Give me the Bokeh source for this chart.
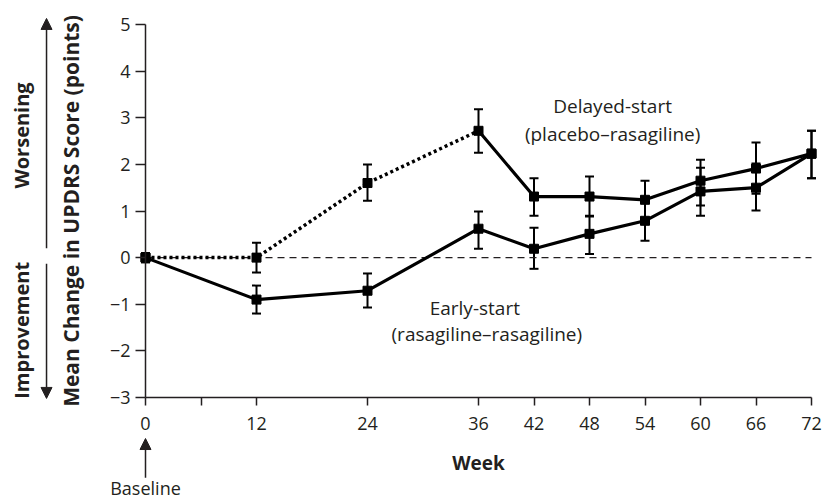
from bokeh.plotting import figure
from bokeh.models import (Range1d, FixedTicker, ColumnDataSource, Whisker, TeeHead,
                          Label, Arrow, NormalHead)
from bokeh.embed import file_html
from bokeh.resources import INLINE

# ---- data ----
weeks = [0, 12, 24, 36, 42, 48, 54, 60, 66, 72]
delayed = [0.0, 0.0, 1.6, 2.72, 1.31, 1.31, 1.24, 1.65, 1.91, 2.23]
delayed_lo = [-0.1, -0.32, 1.22, 2.25, 0.9, 0.88, 0.84, 1.12, 1.37, 1.7]
delayed_hi = [0.1, 0.32, 2.0, 3.18, 1.7, 1.74, 1.65, 2.1, 2.47, 2.72]
early = [0.0, -0.9, -0.71, 0.62, 0.19, 0.51, 0.79, 1.42, 1.5, 2.23]
early_lo = [-0.1, -1.2, -1.07, 0.19, -0.24, 0.08, 0.36, 0.9, 1.01, 1.7]
early_hi = [0.1, -0.6, -0.34, 0.99, 0.64, 0.9, 1.2, 1.93, 2.02, 2.72]
placebo_until = 36  # delayed-start group on placebo until week 36

x_ticks = [0, 6, 12, 24, 36, 42, 48, 54, 60, 66, 72]
y_ticks = [-3, -2, -1, 0, 1, 2, 3, 4, 5]
x_min, x_max = 0, 72
y_min, y_max = -3, 5

FONT = "Open Sans"
INK = "#231f20"

# frame covers the whole canvas; axes are pinned inside it
p = figure(width=823, height=499, output_backend="svg", toolbar_location=None,
           x_range=Range1d(-15.676, 73.297), y_range=Range1d(-5.188, 5.515),
           min_border=0, background_fill_color="white")
p.grid.visible = False
p.outline_line_color = None

xa = p.xaxis[0]
xa.ticker = FixedTicker(ticks=x_ticks)
xa.major_label_overrides = {6: ""}
xa.bounds = (x_min, x_max)
xa.fixed_location = y_min
xa.axis_label = "Week"
ya = p.yaxis[0]
ya.ticker = FixedTicker(ticks=y_ticks)
ya.major_label_overrides = {t: ("\u2212" + str(-t) if t < 0 else str(t)) for t in y_ticks}
ya.bounds = (y_min, y_max)
ya.fixed_location = x_min
ya.axis_label = "Mean Change in UPDRS Score (points)"
for ax in (xa, ya):
    ax.axis_line_color = INK
    ax.axis_line_width = 1.5
    ax.major_tick_line_color = INK
    ax.major_tick_line_width = 1.5
    ax.major_tick_in = 0
    ax.minor_tick_line_color = None
    ax.major_label_text_font = FONT
    ax.major_label_text_font_size = "18px"
    ax.major_label_text_color = INK
    ax.axis_label_text_font = FONT
    ax.axis_label_text_font_style = "bold"
    ax.axis_label_text_color = INK
xa.axis_label_text_font_size = "19px"
ya.axis_label_text_font_size = "21px"
xa.major_tick_out = 8
ya.major_tick_out = 10
xa.major_label_standoff = 12
xa.axis_label_standoff = 16
ya.major_label_standoff = 5
ya.axis_label_standoff = 22

# zero reference line
p.line([x_min, x_max], [0, 0], line_color=INK, line_width=1.3, line_dash="7 5")

# delayed-start: dotted while on placebo, solid afterwards
k = weeks.index(placebo_until)
p.line(weeks[:k + 1], delayed[:k + 1], line_color="black", line_width=3.5, line_dash="3 3")
p.line(weeks[k:], delayed[k:], line_color="black", line_width=3.2)
p.line(weeks, early, line_color="black", line_width=3.2)

src_d = ColumnDataSource(dict(x=weeks, y=delayed, lo=delayed_lo, hi=delayed_hi))
src_e = ColumnDataSource(dict(x=weeks, y=early, lo=early_lo, hi=early_hi))
for src in (src_d, src_e):
    p.add_layout(Whisker(source=src, base="x", lower="lo", upper="hi",
                         line_color="black", line_width=2,
                         upper_head=TeeHead(size=9, line_width=2, line_color="black"),
                         lower_head=TeeHead(size=9, line_width=2, line_color="black")))
    p.scatter("x", "y", source=src, marker="square", size=9, fill_color="black",
              line_color="black")

# series labels
lab = dict(text_font=FONT, text_font_size="19px", text_color=INK, text_align="center",
           text_baseline="middle")
p.add_layout(Label(x=50.5, y=3.26, text="Delayed-start", **lab))
p.add_layout(Label(x=50.5, y=2.66, text="(placebo\u2013rasagiline)", **lab))
p.add_layout(Label(x=35.6, y=-1.07, text="Early-start", **lab))
p.add_layout(Label(x=36.9, y=-1.63, text="(rasagiline\u2013rasagiline)", **lab))

# Worsening / Improvement side annotations
side = dict(text_font=FONT, text_font_size="20px", text_font_style="bold", text_color=INK,
            text_align="center", text_baseline="middle", angle=1.5708)
p.add_layout(Label(x=-13.4, y=2.62, text="Worsening", **side))
p.add_layout(Label(x=-13.4, y=-1.56, text="Improvement", **side))
p.add_layout(Arrow(x_start=-10.7, y_start=0.2, x_end=-10.7, y_end=5.13,
                   line_color=INK, line_width=1.5,
                   end=NormalHead(size=11, fill_color=INK, line_color=INK)))
p.add_layout(Arrow(x_start=-10.7, y_start=-0.13, x_end=-10.7, y_end=-3.02,
                   line_color=INK, line_width=1.5,
                   end=NormalHead(size=11, fill_color=INK, line_color=INK)))

# Baseline marker
p.add_layout(Arrow(x_start=0, y_start=-4.72, x_end=0, y_end=-3.88,
                   line_color=INK, line_width=1.5,
                   end=NormalHead(size=11, fill_color=INK, line_color=INK)))
p.add_layout(Label(x=0, y=-4.95, text="Baseline", text_font=FONT, text_font_size="18px",
                   text_color=INK, text_align="center", text_baseline="middle"))

open("out.html", "w").write(file_html(p, INLINE))
